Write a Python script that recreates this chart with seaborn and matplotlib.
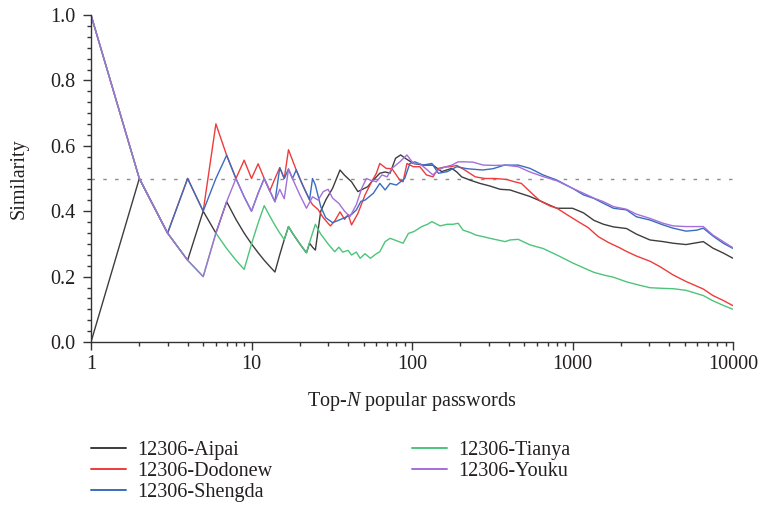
import matplotlib
matplotlib.use("Agg")
import numpy as np
import pandas as pd
import seaborn as sns
import matplotlib.pyplot as plt
from matplotlib.lines import Line2D
from matplotlib.ticker import FixedLocator, LogLocator, NullFormatter

# Dataset names and line colours
series_names = ["12306-Aipai", "12306-Dodonew", "12306-Shengda", "12306-Tianya", "12306-Youku"]
series_colors = ["#3d3d3d", "#ee3b3b", "#3a6cbf", "#4cc47a", "#a46fd9"]

# Similarity of the top-N password lists (N on a log axis)
aipai_n = [1, 2, 3, 4, 5, 6, 7, 8, 9, 10, 11, 12, 13, 14, 15, 16, 17, 18, 19, 20,
           21, 22, 23, 24, 25, 27, 29, 32, 35.6, 38, 42, 46, 53, 56, 60, 63, 68, 73, 79, 85,
           92, 102, 117, 135, 153, 177, 190, 204, 230, 265, 306, 354, 408, 470, 543, 626, 724, 800, 1000, 1170,
           1360, 1560, 1800, 2170, 2500, 3040, 3670, 4240, 5100, 6530, 7500, 8700, 10000]
aipai_sim = [0, 0.5, 0.333, 0.25, 0.4, 0.333, 0.429, 0.375, 0.333, 0.3,
             0.273, 0.25, 0.231, 0.214, 0.267, 0.313, 0.353, 0.333, 0.316, 0.3,
             0.286, 0.273, 0.302, 0.29, 0.281, 0.40, 0.434, 0.47, 0.526, 0.51,
             0.49, 0.46, 0.475, 0.49, 0.505, 0.516, 0.52, 0.516, 0.562, 0.572,
             0.56, 0.546, 0.541, 0.541, 0.521, 0.531, 0.52, 0.505, 0.495, 0.485,
             0.477, 0.467, 0.465, 0.455, 0.445, 0.432, 0.418, 0.409, 0.409, 0.395,
             0.372, 0.36, 0.352, 0.347, 0.33, 0.312, 0.307, 0.302, 0.298, 0.307,
             0.287, 0.272, 0.256]

dodonew_n = [1, 2, 3, 4, 5, 6, 7, 8, 9, 10, 11, 12, 13, 14, 15, 16, 17, 18, 19, 20,
             21, 22, 23, 24, 26, 28, 31, 33, 35.6, 38, 40, 42, 46, 51, 56, 60, 63, 69, 75, 84,
             88, 93, 102, 112, 123, 135, 146, 160, 173, 190, 213, 248, 285, 330, 390, 435, 480, 543, 626, 724,
             800, 920, 1070, 1250, 1450, 1680, 1950, 2170, 2500, 3040, 3520, 4240, 5100, 6530, 7500, 8700, 10000]
dodonew_sim = [1, 0.5, 0.333, 0.5, 0.4, 0.667, 0.571, 0.5, 0.556, 0.5,
               0.545, 0.5, 0.462, 0.5, 0.533, 0.5, 0.588, 0.556, 0.526, 0.5,
               0.476, 0.455, 0.435, 0.42, 0.405, 0.38, 0.355, 0.37, 0.398, 0.375,
               0.39, 0.358, 0.393, 0.45, 0.49, 0.516, 0.546, 0.531, 0.53, 0.495,
               0.49, 0.546, 0.536, 0.536, 0.511, 0.505, 0.531, 0.535, 0.536, 0.54,
               0.526, 0.505, 0.5, 0.5, 0.497, 0.49, 0.485, 0.46, 0.432, 0.416,
               0.409, 0.39, 0.37, 0.35, 0.322, 0.304, 0.289, 0.277, 0.263, 0.247,
               0.23, 0.205, 0.185, 0.162, 0.142, 0.127, 0.111]

shengda_n = [1, 2, 3, 4, 5, 6, 7, 8, 9, 10, 11, 12, 13, 14, 15, 16, 17, 18, 19, 20,
             21, 22, 23, 24, 25, 27, 29, 32, 34, 38, 42, 45, 48, 51, 57.5, 63, 68, 73, 80, 90,
             97, 104, 117, 133, 146, 166, 190, 220, 275, 320, 377, 438, 459, 543, 655, 800, 1000, 1170, 1360, 1560,
             1800, 2170, 2500, 3040, 3670, 4240, 5100, 5940, 6530, 7500, 8700, 10000]
shengda_sim = [1, 0.5, 0.333, 0.5, 0.4, 0.5, 0.571, 0.5, 0.444, 0.4,
               0.455, 0.5, 0.462, 0.429, 0.533, 0.5, 0.529, 0.5, 0.526, 0.5,
               0.476, 0.455, 0.435, 0.5, 0.48, 0.414, 0.38, 0.365, 0.37, 0.38,
               0.39, 0.404, 0.43, 0.434, 0.455, 0.485, 0.465, 0.485, 0.48, 0.5,
               0.546, 0.551, 0.541, 0.546, 0.516, 0.521, 0.536, 0.53, 0.526, 0.53,
               0.541, 0.541, 0.541, 0.531, 0.511, 0.495, 0.47, 0.45, 0.439, 0.424,
               0.409, 0.404, 0.383, 0.373, 0.358, 0.348, 0.339, 0.342, 0.348, 0.324,
               0.302, 0.286]

tianya_n = [1, 2, 3, 4, 5, 6, 7, 8, 9, 10, 11, 12, 13, 14, 15, 16, 17, 18, 19, 20,
            21, 22, 23, 24, 25, 27, 30, 33, 35, 37, 40, 42, 45, 47.5, 51, 55, 60, 63, 68, 73,
            80, 88, 95, 103, 115, 125, 133, 150, 165, 180, 194, 208, 230, 250, 278, 320, 380, 408, 459, 543,
            655, 800, 1000, 1170, 1360, 1560, 1800, 2170, 2500, 3040, 3670, 4240, 5100, 6530, 7500, 8700, 10000]
tianya_sim = [1, 0.5, 0.333, 0.25, 0.2, 0.333, 0.286, 0.25, 0.222, 0.3,
              0.364, 0.417, 0.385, 0.357, 0.333, 0.313, 0.353, 0.333, 0.316, 0.3,
              0.286, 0.273, 0.304, 0.333, 0.36, 0.33, 0.30, 0.276, 0.29, 0.275,
              0.28, 0.266, 0.275, 0.256, 0.27, 0.256, 0.27, 0.276, 0.307, 0.317,
              0.31, 0.302, 0.332, 0.338, 0.353, 0.36, 0.368, 0.355, 0.36, 0.36,
              0.363, 0.342, 0.335, 0.327, 0.322, 0.315, 0.307, 0.312, 0.314, 0.297,
              0.286, 0.266, 0.242, 0.227, 0.213, 0.205, 0.198, 0.184, 0.176, 0.166,
              0.164, 0.163, 0.158, 0.142, 0.126, 0.112, 0.1]

youku_n = [1, 2, 3, 4, 5, 6, 7, 8, 9, 10, 11, 12, 13, 14, 15, 16, 17, 18, 19, 20,
           21, 22, 24, 26, 28, 30, 32, 35, 38, 41, 45, 48.6, 52, 55, 60, 65, 70, 75, 84, 93,
           102, 112, 122, 135, 146, 160, 177, 194, 213, 240, 278, 330, 380, 459, 543, 655, 800, 1000, 1170, 1360,
           1560, 1800, 2170, 2500, 3040, 3670, 4240, 5100, 6530, 7500, 8700, 10000]
youku_sim = [1, 0.5, 0.333, 0.25, 0.2, 0.333, 0.429, 0.5, 0.444, 0.4,
             0.455, 0.5, 0.462, 0.429, 0.467, 0.438, 0.529, 0.5, 0.474, 0.45,
             0.429, 0.409, 0.444, 0.434, 0.46, 0.467, 0.44, 0.424, 0.40, 0.383,
             0.42, 0.47, 0.5, 0.495, 0.49, 0.511, 0.505, 0.531, 0.551, 0.572,
             0.546, 0.545, 0.53, 0.511, 0.526, 0.535, 0.541, 0.551, 0.551, 0.55,
             0.541, 0.54, 0.541, 0.536, 0.52, 0.506, 0.493, 0.47, 0.455, 0.44,
             0.429, 0.414, 0.406, 0.391, 0.378, 0.363, 0.355, 0.353, 0.353, 0.327,
             0.307, 0.288]

x_ticks = [1, 10, 100, 1000, 10000]
x_tick_labels = ["1", "10", "100", "1000", "10000"]
y_ticks = [0.0, 0.2, 0.4, 0.6, 0.8, 1.0]
y_tick_labels = ["0.0", "0.2", "0.4", "0.6", "0.8", "1.0"]
reference_level = 0.5

sns.set_style("ticks")
plt.rcParams["font.family"] = ["Liberation Serif", "DejaVu Serif"]
plt.rcParams["mathtext.fontset"] = "custom"
plt.rcParams["mathtext.rm"] = "Liberation Serif"
plt.rcParams["mathtext.it"] = "Liberation Serif:italic"
text_color = "#231f20"
axis_color = "#333333"
fs = 14.5

frames = []
for name, n, s in zip(series_names,
                      [aipai_n, dodonew_n, shengda_n, tianya_n, youku_n],
                      [aipai_sim, dodonew_sim, shengda_sim, tianya_sim, youku_sim]):
    frames.append(pd.DataFrame({"N": n, "Similarity": s, "Dataset": name}))
df = pd.concat(frames, ignore_index=True)
palette = dict(zip(series_names, series_colors))

W, H = 762, 507
fig = plt.figure(figsize=(W / 100, H / 100), dpi=100)
ax = fig.add_axes([91 / W, 1 - 342 / H, (733 - 91) / W, (342 - 15) / H])

ax.axhline(reference_level, color="#8c8c8c", lw=1.0, ls=(0, (2.5, 6)), zorder=1)
sns.lineplot(data=df, x="N", y="Similarity", hue="Dataset", hue_order=series_names,
             palette=palette, estimator=None, sort=False, lw=1.0, legend=False, ax=ax)

ax.set_xscale("log")
ax.set_xlim(1, 10000)
ax.set_ylim(0, 1.0)
ax.xaxis.set_major_locator(FixedLocator(x_ticks))
ax.set_xticklabels(x_tick_labels)
ax.xaxis.set_minor_locator(LogLocator(base=10, subs=np.arange(2, 10)))
ax.xaxis.set_minor_formatter(NullFormatter())
ax.set_yticks(y_ticks)
ax.set_yticklabels(y_tick_labels)
ax.yaxis.set_minor_locator(FixedLocator(np.linspace(0, 1, 31)))

ax.tick_params(axis="both", which="major", direction="out", length=5.5, width=1.0,
               color=axis_color, labelcolor=text_color, labelsize=fs)
ax.tick_params(axis="both", which="minor", direction="out", length=3.0, width=1.0, color=axis_color)
ax.tick_params(axis="x", which="major", pad=4)
ax.tick_params(axis="y", which="major", pad=6)

sns.despine(ax=ax)
for side in ("left", "bottom"):
    ax.spines[side].set_color(axis_color)
    ax.spines[side].set_linewidth(1.0)

ax.set_xlabel("Top-$\\mathit{N}$ popular passwords", fontsize=fs, color=text_color)
ax.set_ylabel("Similarity", fontsize=fs, color=text_color)
ax.xaxis.set_label_coords(0.5, (342 - 390) / 327)
ax.yaxis.set_label_coords((29 - 91) / 642, 0.5)

handles = [Line2D([], [], color=c, lw=1.4) for c in series_colors]
legend_kw = dict(frameon=False, fontsize=fs, handlelength=1.75, handletextpad=0.55,
                 labelspacing=0.1, borderpad=0, borderaxespad=0, loc="upper left",
                 labelcolor=text_color)
fig.legend(handles[:3], series_names[:3], bbox_to_anchor=(91 / W, 1 - 441 / H), **legend_kw)
fig.legend(handles[3:], series_names[3:], bbox_to_anchor=(412 / W, 1 - 441 / H), **legend_kw)

fig.savefig("out.png", dpi=100)
